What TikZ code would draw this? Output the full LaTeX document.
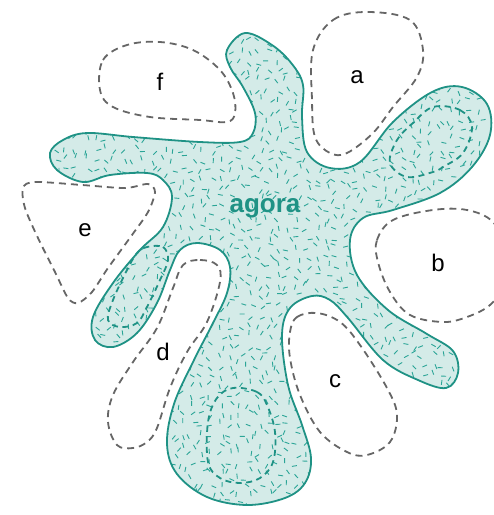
\documentclass[tikz,border=0pt]{standalone}
\usepackage{fontspec}
\setmainfont{Liberation Sans}
\usetikzlibrary{positioning}
\definecolor{agorafill}{HTML}{D4EBE8}
\definecolor{agoradraw}{HTML}{1F9285}
\definecolor{agoratex}{HTML}{2BA597}
\definecolor{zonedraw}{HTML}{666666}
\tikzset{
  zone/.style={draw=zonedraw, line width=1.8pt, dash pattern=on 7pt off 5pt},
  agoraline/.style={draw=agoradraw, line width=1.8pt},
  inner/.style={draw=agoradraw, line width=1.8pt, dash pattern=on 6pt off 4.5pt},
  grain/.style={draw=agoratex, line width=0.9pt},
  lab/.style={font=\fontsize{24}{28}\selectfont, text=black},
  title/.style={font=\fontsize{26}{30}\selectfont\bfseries, text=agoradraw},
}
\def\agorapath{plot[smooth cycle, tension=0.6] coordinates {
  (227,50) (245,33) (272,45) (292,64) (303,85) (302,117) (307,152) (330,168)
  (360,162) (393,122) (432,92) (462,87) (487,104) (490,135) (472,167) (440,193)
  (393,210) (363,218) (350,240) (357,275) (388,310) (427,334) (453,351) (458,373)
  (446,388) (418,380) (383,360) (348,318) (330,300) (312,296) (290,308) (282,335)
  (288,385) (302,425) (311,458) (305,483) (285,498) (247,505) (207,497) (177,474)
  (167,444) (174,404) (194,360) (213,323) (227,293) (230,267) (220,250) (197,243)
  (180,250) (170,270) (157,303) (137,333) (113,347) (95,340) (93,317) (113,283)
  (140,250) (163,227) (172,197) (163,180) (147,173) (110,175) (83,182) (57,170)
  (50,153) (63,140) (87,133) (133,137) (200,142) (240,142) (253,133) (255,113)
  (243,87) (230,67)}}

\begin{document}
\begin{tikzpicture}[x=1pt, y=-1pt]
  \useasboundingbox (0,0) rectangle (494,515);
  % surrounding zones
  \draw[zone] plot[smooth cycle, tension=0.6] coordinates {(313,50) (333,20) (367,12) (410,20)
    (423,50) (417,77) (393,107) (373,133) (347,153) (330,153) (315,137) (312,100)};
  \draw[zone] plot[smooth cycle, tension=0.6] coordinates {(100,90) (103,60) (127,45) (160,42)
    (193,50) (220,70) (233,93) (235,113) (227,122) (200,120) (150,117) (113,107)};
  \draw[zone] plot[smooth cycle, tension=0.5] coordinates {(23,188) (35,182) (82,185) (125,188)
    (148,184) (155,192) (148,212) (132,235) (108,268) (92,292) (78,303) (68,298) (55,272)
    (38,238) (25,208)};
  \begin{scope}
    \clip (0,0) rectangle (494,515);
    \draw[zone] plot[smooth cycle, tension=0.6] coordinates {(378,262) (377,240) (393,220) (433,210)
      (467,210) (493,222) (505,250) (503,285) (490,305) (467,317) (443,322) (410,315) (390,292)};
  \end{scope}
  \draw[zone] plot[smooth cycle, tension=0.6] coordinates {(290,332) (297,317) (317,313) (340,322)
    (360,345) (387,388) (397,415) (390,442) (367,455) (347,452) (320,432) (300,395) (290,358)};
  \draw[zone] plot[smooth cycle, tension=0.6] coordinates {(183,265) (200,260) (217,265) (220,282)
    (207,322) (187,352) (170,388) (157,428) (147,442) (133,448) (117,445) (108,422) (113,395)
    (133,362) (157,328) (173,288)};
  % agora
  \fill[agorafill] \agorapath;
  \begin{scope}
    \clip \agorapath;
    \pgfmathsetseed{11}
    \foreach \i in {0,...,45}
      \foreach \j in {0,...,48} {
        \pgfmathsetmacro\px{48+\i*9.6+rand*4}
        \pgfmathsetmacro\py{32+\j*9.8+rand*4}
        \pgfmathsetmacro\ang{rnd*180}
        \draw[grain] (\px,\py) ++(\ang:2.5) -- ++(\ang+180:5);
      }
  \end{scope}
  \draw[inner] plot[smooth cycle, tension=0.6] coordinates {(433,107) (460,110) (472,127) (463,153)
    (443,167) (433,172) (407,177) (390,163) (397,140) (413,123)};
  \draw[inner] plot[smooth cycle, tension=0.6] coordinates {(147,247) (163,247) (168,260) (160,280)
    (147,307) (137,323) (120,327) (108,320) (113,300) (127,270) (137,253)};
  \draw[inner] plot[smooth cycle, tension=0.6] coordinates {(233,388) (257,392) (267,405) (275,432)
    (273,462) (260,478) (240,483) (220,478) (208,462) (208,422) (217,398)};
  \draw[agoraline] \agorapath;
  % labels
  \node[title] (agora) at (265,208) {agora};
  \node[lab] (la) at (357,77) {a};
  \node[lab] (lb) at (438,263) {b};
  \node[lab] (lc) at (335,381) {c};
  \node[lab] (ld) at (163,352) {d};
  \node[lab] (le) at (85,230) {e};
  \node[lab] (lf) at (160,82) {f};
\end{tikzpicture}
\end{document}
